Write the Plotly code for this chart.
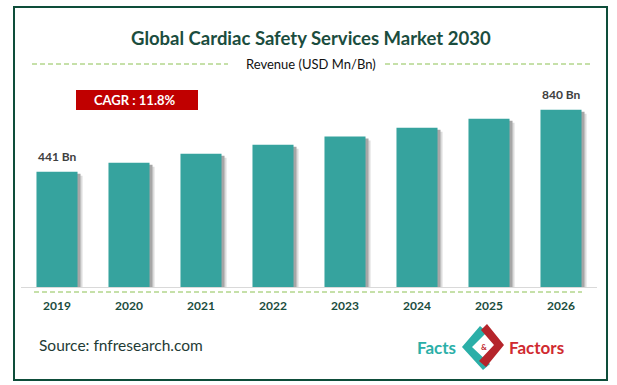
import plotly.graph_objects as go

years = ["2019", "2020", "2021", "2022", "2023", "2024", "2025", "2026"]
revenue = [441, 499, 557, 615, 668, 724, 782, 840]
value_labels = ["441 Bn", "", "", "", "", "", "", "840 Bn"]
title_text = "Global Cardiac Safety Services Market 2030"
subtitle_text = "Revenue (USD Mn/Bn)"
cagr_text = "CAGR : 11.8%"
source_text = "Source: fnfresearch.com"

W, H = 617, 385
ML, MR, MT, MB = 21, 20, 100, 98
AXIS_MIN, AXIS_MAX = -300, 903
BAR_W = 0.57
FONT = "Lato"

def px(x):
    return (x - ML) / (W - ML - MR)

def py(y):
    return (H - MB - y) / (H - MT - MB)

units_per_px = (AXIS_MAX - AXIS_MIN) / (H - MT - MB)

fig = go.Figure()

# soft drop shadows
for dx, drop, col in [(5, 4, "#dcdcdc"), (3, 2, "#a6a6a6")]:
    fig.add_trace(go.Bar(
        x=years, y=[v - drop * units_per_px - AXIS_MIN for v in revenue],
        base=AXIS_MIN, width=BAR_W, offset=-BAR_W / 2 + dx / 72,
        marker=dict(color=col, line=dict(width=0)),
        hoverinfo="skip", showlegend=False))

fig.add_trace(go.Bar(
    x=years, y=[v - AXIS_MIN for v in revenue], base=AXIS_MIN,
    width=BAR_W, offset=-BAR_W / 2,
    marker=dict(color="#36A39E", line=dict(width=0)),
    customdata=revenue, hovertemplate="%{x}: %{customdata} Bn<extra></extra>",
    showlegend=False))

annotations = []
for i, (v, lab) in enumerate(zip(revenue, value_labels)):
    if lab:
        annotations.append(dict(x=i, y=v, xref="x", yref="y", text=lab,
                                showarrow=False, xanchor="center", yanchor="bottom", yshift=6,
                                font=dict(family=FONT, size=12, color="#404040", weight="bold")))

def txt(x, y, text, size, color, weight="normal", xanchor="center"):
    return dict(x=px(x), y=py(y), xref="paper", yref="paper", text=text,
                showarrow=False, xanchor=xanchor, yanchor="middle",
                font=dict(family=FONT, size=size, color=color, weight=weight))

annotations += [
    txt(311, 38, title_text, 18.5, "#1B4D3E", "bold"),
    txt(311, 64, subtitle_text, 13, "#111111"),
    txt(135, 100, cagr_text, 13, "#ffffff", "bold"),
    txt(37, 345, source_text, 15.5, "#1E3B35", xanchor="left"),
    txt(458, 347, "Facts", 17, "#2BAFA8", "bold", xanchor="right"),
    txt(507, 347, "Factors", 17, "#D02A30", "bold", xanchor="left"),
    txt(484, 347, "&", 8, "#C0272D", "bold"),
]

def poly(points):
    return "M " + " L ".join(f"{px(a):.5f},{py(b):.5f}" for a, b in points) + " Z"

shapes = [
    dict(type="rect", xref="paper", yref="paper", x0=px(14), x1=px(607), y0=py(7), y1=py(380),
         line=dict(color="#0E4D3A", width=2), fillcolor="rgba(0,0,0,0)", layer="below"),
    dict(type="line", xref="paper", yref="paper", x0=px(32), x1=px(228), y0=py(64), y1=py(64),
         line=dict(color="#8CC152", width=1, dash="5px,3px")),
    dict(type="line", xref="paper", yref="paper", x0=px(385), x1=px(590), y0=py(64), y1=py(64),
         line=dict(color="#8CC152", width=1, dash="5px,3px")),
    dict(type="line", xref="paper", yref="paper", x0=px(34), x1=px(582), y0=py(292), y1=py(292),
         line=dict(color="#8CC152", width=1, dash="5px,3px")),
    dict(type="rect", xref="paper", yref="paper", x0=px(76), x1=px(198), y0=py(90), y1=py(110),
         fillcolor="#C00000", line=dict(width=0)),
    dict(type="path", xref="paper", yref="paper",
         path=poly([(480, 326), (462, 347), (483, 370), (490, 364), (472, 347), (487, 332)]),
         fillcolor="#2BAFA8", line=dict(width=0)),
    dict(type="path", xref="paper", yref="paper",
         path=poly([(487, 324), (504, 345), (486, 367), (479, 361), (494, 345), (481, 330)]),
         fillcolor="#B5252B", line=dict(width=0)),
]

fig.update_layout(
    width=W, height=H, margin=dict(l=ML, r=MR, t=MT, b=MB, autoexpand=False),
    paper_bgcolor="white", plot_bgcolor="white",
    barmode="overlay", showlegend=False,
    annotations=annotations, shapes=shapes,
    xaxis=dict(type="category", range=[-0.5, len(years) - 0.5], automargin=False,
               showline=True, linecolor="#D9D9D9", linewidth=1,
               showgrid=False, zeroline=False, ticks="", ticklabelstandoff=8,
               tickfont=dict(family=FONT, size=12, color="#1B4D3E", weight="bold"),
               fixedrange=True),
    yaxis=dict(range=[AXIS_MIN, AXIS_MAX], visible=False, showgrid=False, automargin=False,
               zeroline=False, fixedrange=True),
)

fig.write_html("out.html", config={"displayModeBar": False},
               post_script="document.body.style.margin='0px';")
